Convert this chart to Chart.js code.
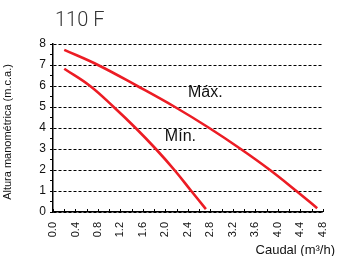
<!DOCTYPE html>
<html>
<head>
<meta charset="utf-8">
<script src="https://cdn.jsdelivr.net/npm/chart.js@4"></script>
<style>
  html, body { margin: 0; padding: 0; background: #fff; }
  #wrap { width: 346px; height: 256px; }
</style>
</head>
<body>
<div id="wrap"><canvas id="grafico" width="346" height="256"></canvas></div>
<script>
// curva Máx. (caudal m³/h, altura m.c.a.)
const caudalMax = [0.2, 0.8, 1.5, 2.17, 2.78, 3.34, 3.86, 4.33, 4.7];
const alturaMax = [7.72, 7.0, 6.0, 5.0, 4.0, 3.0, 2.0, 1.0, 0.18];
// curva Mín.
const caudalMin = [0.2, 0.66, 1.08, 1.47, 1.83, 2.16, 2.46, 2.72];
const alturaMin = [6.82, 6.0, 5.0, 4.0, 3.0, 2.0, 1.0, 0.14];

const titulo = "110 F";
const tituloY = "Altura manométrica (m.c.a.)";
const tituloX = "Caudal (m³/h)";
const rotulos = [
  { texto: "Máx.", x: 2.4, y: 5.48 },
  { texto: "Mín.", x: 1.99, y: 3.39 }
];

const vermelho = "#ec1c24";
const fonte = "'Liberation Sans', Arial, sans-serif";

const pares = (xs, ys) => xs.map((x, i) => ({ x: x, y: ys[i] }));

// textos extra e marcas internas do eixo x
const extras = {
  id: "extras",
  afterDraw(chart) {
    const ctx = chart.ctx;
    const sx = chart.scales.x, sy = chart.scales.y;
    const base = chart.chartArea.bottom;
    ctx.save();
    ctx.strokeStyle = "#000";
    ctx.lineWidth = 1;
    for (let i = 0; i <= 24; i++) {
      const px = Math.round(sx.getPixelForValue(i * 0.2)) + 0.5;
      ctx.beginPath();
      ctx.moveTo(px, base);
      ctx.lineTo(px, base - 3);
      ctx.stroke();
    }
    ctx.fillStyle = "#333";
    ctx.font = "300 20px Roboto";
    ctx.textBaseline = "alphabetic";
    ctx.textAlign = "left";
    ctx.fillText(titulo, 55, 26);

    ctx.fillStyle = "#111";
    ctx.font = "16px " + fonte;
    rotulos.forEach(r => ctx.fillText(r.texto, sx.getPixelForValue(r.x), sy.getPixelForValue(r.y)));

    ctx.font = "13px " + fonte;
    ctx.textAlign = "right";
    ctx.textBaseline = "middle";
    ctx.fillText(tituloX, 335, 250);

    ctx.font = "11px " + fonte;
    ctx.translate(8, 132);
    ctx.rotate(-Math.PI / 2);
    ctx.textAlign = "center";
    ctx.fillText(tituloY, 0, 0);
    ctx.restore();
  }
};

new Chart(document.getElementById("grafico"), {
  type: "line",
  data: {
    datasets: [
      {
        label: "Máx.",
        data: pares(caudalMax, alturaMax),
        borderColor: vermelho,
        borderWidth: 2.6,
        pointRadius: 0,
        tension: 0.4,
        fill: false
      },
      {
        label: "Mín.",
        data: pares(caudalMin, alturaMin),
        borderColor: vermelho,
        borderWidth: 2.6,
        pointRadius: 0,
        tension: 0.4,
        fill: false
      }
    ]
  },
  options: {
    responsive: false,
    animation: false,
    devicePixelRatio: 1,
    layout: { padding: { top: 44, right: 16, left: 0, bottom: 0 } },
    plugins: {
      legend: { display: false },
      title: { display: false },
      tooltip: { enabled: false }
    },
    scales: {
      x: {
        type: "linear",
        min: 0,
        max: 4.8,
        afterFit: s => { s.height = 44; },
        border: { display: true, color: "#000", width: 1.5 },
        grid: { display: false, drawTicks: false },
        ticks: {
          stepSize: 0.2,
          autoSkip: false,
          minRotation: 90,
          maxRotation: 90,
          padding: 10,
          color: "#111",
          font: { family: fonte, size: 11 },
          callback: (v, i) => (i % 2 === 0 ? Number(v).toFixed(1) : "")
        }
      },
      y: {
        type: "linear",
        min: 0,
        max: 8,
        afterFit: s => { s.width = 53; },
        border: { display: true, color: "#000", width: 1.5, dash: [3, 2] },
        grid: {
          color: c => (c.tick && c.tick.value % 1 === 0 ? "#000" : "rgba(0,0,0,0)"),
          tickColor: "#000",
          tickLength: 3,
          tickWidth: 1,
          lineWidth: 1
        },
        ticks: {
          stepSize: 0.5,
          autoSkip: false,
          padding: 4,
          color: "#111",
          font: { family: fonte, size: 12 },
          callback: v => (v % 1 === 0 ? v : "")
        }
      }
    }
  },
  plugins: [extras]
});
</script>
</body>
</html>
